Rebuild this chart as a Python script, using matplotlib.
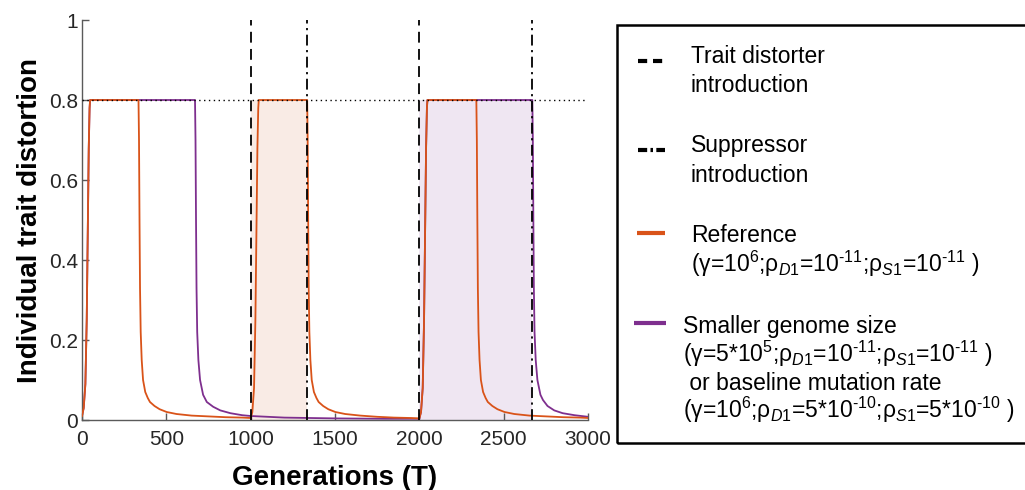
import matplotlib
matplotlib.use("Agg")
import matplotlib.pyplot as plt
from matplotlib.lines import Line2D
from matplotlib.patches import Rectangle

plt.rcParams['font.family'] = ['Liberation Sans', 'DejaVu Sans']
plt.rcParams['mathtext.fontset'] = 'custom'
plt.rcParams['mathtext.rm'] = 'Liberation Sans'
plt.rcParams['mathtext.it'] = 'Liberation Sans:italic'
plt.rcParams['mathtext.bf'] = 'Liberation Sans:bold'

# reference run (gamma=1e6, rho=1e-11)
t_ref = [0, 10, 20, 28, 35, 40, 45, 48, 335, 338, 341, 344, 348, 354, 362, 375, 390, 403,
         430, 460, 502, 560, 650, 750, 850, 950, 1000,
         1010, 1020, 1028, 1035, 1040, 1045, 1048, 1335, 1338, 1341, 1344, 1348, 1354, 1362,
         1375, 1390, 1403, 1430, 1460, 1502, 1560, 1650, 1750, 1850, 1950, 2000,
         2010, 2020, 2028, 2035, 2040, 2045, 2048, 2338, 2341, 2344, 2347, 2351, 2357, 2365,
         2378, 2393, 2406, 2433, 2463, 2505, 2563, 2653, 2753, 2853, 2953, 3000]
d_ref = [0.01, 0.03, 0.09, 0.25, 0.5, 0.68, 0.78, 0.8, 0.8, 0.7, 0.5, 0.33, 0.22, 0.15, 0.1,
         0.07, 0.055, 0.045, 0.035, 0.027, 0.02, 0.015, 0.011, 0.009, 0.007, 0.006, 0.005,
         0.02, 0.08, 0.25, 0.5, 0.68, 0.78, 0.8, 0.8, 0.7, 0.5, 0.33, 0.22, 0.15, 0.1,
         0.07, 0.055, 0.045, 0.035, 0.027, 0.02, 0.015, 0.011, 0.008, 0.006, 0.005, 0.004,
         0.02, 0.08, 0.25, 0.5, 0.68, 0.78, 0.8, 0.8, 0.7, 0.5, 0.33, 0.22, 0.15, 0.1,
         0.07, 0.055, 0.045, 0.035, 0.027, 0.02, 0.015, 0.011, 0.009, 0.007, 0.006, 0.005]

# smaller genome size / baseline mutation rate
t_small = [0, 10, 20, 28, 35, 40, 45, 48, 670, 673, 676, 679, 683, 690, 700, 718, 740, 778,
           820, 880, 950, 1000, 1200, 1500, 1800, 2000,
           2010, 2020, 2028, 2035, 2040, 2045, 2048, 2670, 2673, 2676, 2679, 2683, 2690,
           2700, 2718, 2733, 2760, 2800, 2850, 2920, 3000]
d_small = [0.01, 0.03, 0.09, 0.25, 0.5, 0.68, 0.78, 0.8, 0.8, 0.7, 0.5, 0.33, 0.22, 0.15, 0.1,
           0.063, 0.045, 0.033, 0.024, 0.017, 0.012, 0.01, 0.006, 0.004, 0.003, 0.003,
           0.02, 0.08, 0.25, 0.5, 0.68, 0.78, 0.8, 0.8, 0.7, 0.5, 0.33, 0.22, 0.15,
           0.1, 0.063, 0.05, 0.035, 0.024, 0.017, 0.012, 0.008]

distorter_t = [1000, 2000]
suppressor_t = [1335, 2670]
max_distortion = 0.8

orange = '#D95319'
purple = '#7E2F8E'

fig = plt.figure(figsize=(10.25, 4.9), dpi=100)
ax = fig.add_axes([82 / 1025, 70 / 490, 506 / 1025, 400 / 490])

# shaded windows between distorter and suppressor introduction
ax.fill_between([distorter_t[0], suppressor_t[0]], 0, max_distortion,
                color='#F9EBE5', lw=0, zorder=0)
ax.fill_between([distorter_t[1], suppressor_t[1]], 0, max_distortion,
                color='#EFE6F2', lw=0, zorder=0)

ax.plot(t_small, d_small, color=purple, lw=1.3, zorder=2)
ax.plot(t_ref, d_ref, color=orange, lw=1.3, zorder=3)
ax.axhline(max_distortion, color='k', ls=(0, (1, 2.5)), lw=1.0, zorder=4)
for t in distorter_t:
    ax.axvline(t, color='k', ls=(0, (6, 3.5)), lw=1.3, zorder=5)
for t in suppressor_t:
    ax.axvline(t, color='k', ls=(0, (6, 2.5, 1.2, 2.5)), lw=1.3, zorder=5)

ax.set_xlim(0, 3000)
ax.set_ylim(0, 1)
ax.set_xticks([0, 500, 1000, 1500, 2000, 2500, 3000])
ax.set_yticks([0, 0.2, 0.4, 0.6, 0.8, 1])
ax.set_yticklabels(['0', '0.2', '0.4', '0.6', '0.8', '1'])
for side in ['top', 'right']:
    ax.spines[side].set_visible(False)
for side in ['left', 'bottom']:
    ax.spines[side].set_color('#5a5a5a')
    ax.spines[side].set_linewidth(1.0)
ax.tick_params(direction='in', length=5, width=1.0, color='#5a5a5a',
               labelsize=15, labelcolor='#262626')
ax.tick_params(axis='x', pad=7)
ax.tick_params(axis='y', pad=3)
ax.set_xlabel('Generations (T)', fontsize=20, fontweight='bold', labelpad=12)
ax.set_ylabel('Individual trait distortion', fontsize=20, fontweight='bold', labelpad=4)


def fx(px):
    return px / 1025


def fy(py):
    return 1 - py / 490


# legend box, running off the right edge
fig.add_artist(Rectangle((fx(617), fy(443)), fx(420), fy(25) - fy(443),
                         fill=False, ec='k', lw=1.8, transform=fig.transFigure))

handles = [
    (60.7, dict(color='k', ls=(0, (2.2, 1.4)), lw=3.0), 638, 665),
    (150, dict(color='k', ls=(0, (2.2, 0.8, 0.6, 0.8)), lw=3.0), 638, 665),
    (232.7, dict(color=orange, lw=3.0), 637, 665),
    (323.3, dict(color=purple, lw=3.0), 634, 666),
]
for y, style, x0, x1 in handles:
    fig.add_artist(Line2D([fx(x0), fx(x1)], [fy(y), fy(y)], transform=fig.transFigure,
                          solid_capstyle='butt', dash_capstyle='butt', **style))

leg_lines = [
    (691, 63, 'Trait distorter'),
    (691, 92, 'introduction'),
    (691, 152, 'Suppressor'),
    (691, 181.5, 'introduction'),
    (691, 241.5, 'Reference'),
    (691, 271.5, r'(γ=10$^{6}$;ρ$_{\mathit{D1}}$=10$^{‐11}$;ρ$_{\mathit{S1}}$=10$^{‐11}$ )'),
    (683, 333, 'Smaller genome size'),
    (683, 361.5, r'(γ=5*10$^{5}$;ρ$_{\mathit{D1}}$=10$^{‐11}$;ρ$_{\mathit{S1}}$=10$^{‐11}$ )'),
    (683, 390, ' or baseline mutation rate'),
    (683, 418.3, r'(γ=10$^{6}$;ρ$_{\mathit{D1}}$=5*10$^{‐10}$;ρ$_{\mathit{S1}}$=5*10$^{‐10}$ )'),
]
for x, y, s in leg_lines:
    fig.text(fx(x), fy(y), s, fontsize=16.5, va='baseline', ha='left', color='k')

fig.savefig('out.png', dpi=100)
